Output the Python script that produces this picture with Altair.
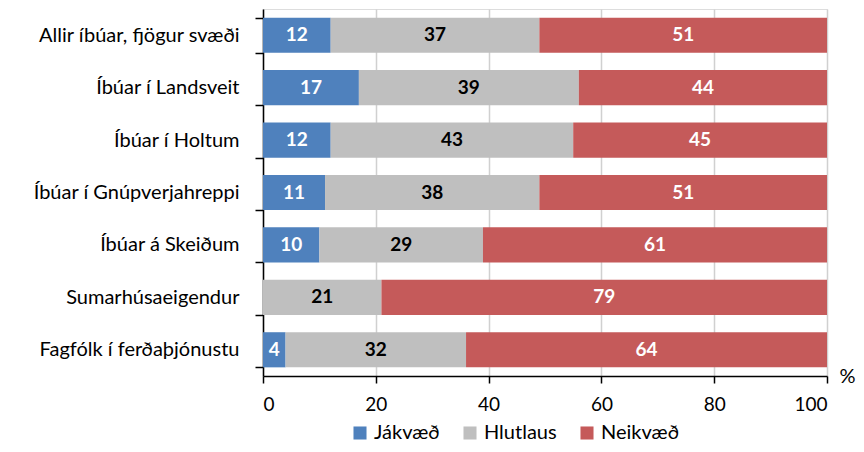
import altair as alt
import pandas as pd

categories = [
    "Allir íbúar, fjögur svæði",
    "Íbúar í Landsveit",
    "Íbúar í Holtum",
    "Íbúar í Gnúpverjahreppi",
    "Íbúar á Skeiðum",
    "Sumarhúsaeigendur",
    "Fagfólk í ferðaþjónustu",
]
series = ["Jákvæð", "Hlutlaus", "Neikvæð"]
jakvaed = [12, 17, 12, 11, 10, 0, 4]
hlutlaus = [37, 39, 43, 38, 29, 21, 32]
neikvaed = [51, 44, 45, 51, 61, 79, 64]
colors = ["#4F81BD", "#BFBFBF", "#C55A5A"]

rows = []
for i, c in enumerate(categories):
    for j, (s, vals) in enumerate(zip(series, [jakvaed, hlutlaus, neikvaed])):
        rows.append({"cat": c, "series": s, "idx": j, "value": vals[i]})
df = pd.DataFrame(rows)

FONT = "Lato"

x_axis = alt.Axis(
    values=[0, 20, 40, 60, 80, 100],
    grid=True,
    gridColor="#D0D0D0",
    gridWidth=1.5,
    domainColor="black",
    domainWidth=1.5,
    tickColor="black",
    tickWidth=1.5,
    tickSize=7,
    labelPadding=12,
    labelFontSize=19,
    labelColor="black",
    labelFont=FONT,
    title="%",
    titleX=592,
    titleY=6,
    titleAlign="right",
    titleBaseline="alphabetic",
    titleFontSize=20,
    titleFontWeight="normal",
    titleFont=FONT,
    titleColor="black",
)

y_axis = alt.Axis(
    tickBand="extent",
    domainColor="black",
    domainWidth=1.5,
    tickColor="black",
    tickWidth=1.5,
    tickSize=8,
    labelPadding=16,
    labelFontSize=20,
    labelColor="black",
    labelFont=FONT,
    labelLimit=300,
    title=None,
)

x_scale = alt.Scale(domain=[0, 100], nice=False)
y_scale = alt.Scale(paddingInner=0.33, paddingOuter=0.165)

bars = alt.Chart(df).mark_bar().encode(
    x=alt.X("value:Q", stack="zero", scale=x_scale, axis=x_axis),
    y=alt.Y("cat:N", sort=categories, scale=y_scale, axis=y_axis),
    color=alt.Color(
        "series:N",
        scale=alt.Scale(domain=series, range=colors),
        legend=alt.Legend(
            orient="none",
            legendX=87,
            legendY=414,
            direction="horizontal",
            title=None,
            symbolType="square",
            symbolSize=170,
            symbolStrokeWidth=0,
            labelFontSize=20,
            labelFont=FONT,
            labelColor="black",
            columnPadding=20,
            labelOffset=4,
        ),
    ),
    order=alt.Order("idx:Q"),
)

labels = (
    alt.Chart(df)
    .transform_stack(
        stack="value",
        groupby=["cat"],
        as_=["v0", "v1"],
        sort=[alt.SortField("idx", order="ascending")],
    )
    .transform_calculate(mid="(datum.v0 + datum.v1) / 2")
    .transform_filter("datum.value > 0")
    .mark_text(fontWeight="bold", fontSize=19, font=FONT, baseline="middle")
    .encode(
        x=alt.X("mid:Q", scale=x_scale, axis=x_axis),
        y=alt.Y("cat:N", sort=categories, scale=y_scale, axis=y_axis),
        text=alt.Text("value:Q"),
        color=alt.condition(
            "datum.series == 'Hlutlaus'", alt.value("black"), alt.value("white")
        ),
    )
)

chart = (
    alt.layer(bars, labels)
    .properties(
        width=564,
        height=367,
        autosize=alt.AutoSizeParams(type="none"),
        padding={"left": 255, "top": 1, "right": 29, "bottom": 68},
    )
    .configure_view(stroke="#8C8C8C", strokeWidth=1.5)
    .configure(font=FONT)
)

chart.save("out.html", embed_options={"renderer": "svg", "actions": False})
